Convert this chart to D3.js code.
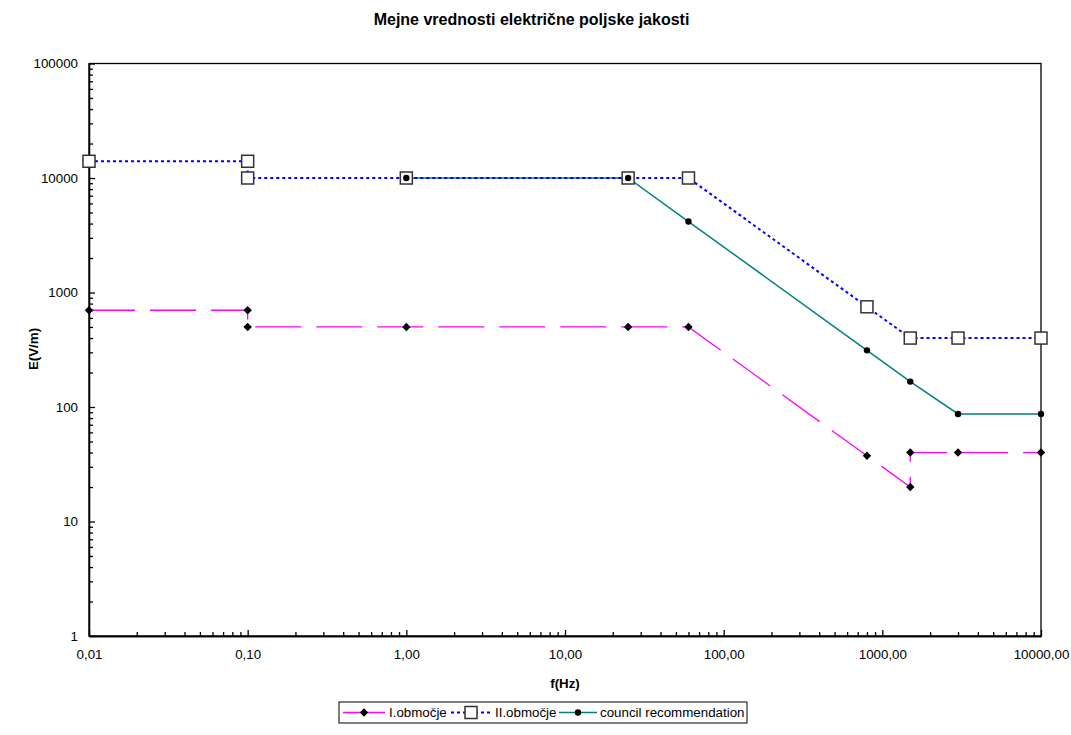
<!DOCTYPE html>
<html>
<head>
<meta charset="utf-8">
<script src="https://cdn.jsdelivr.net/npm/d3@7"></script>
<style>
  html, body { margin: 0; padding: 0; background: #fff; }
  svg { display: block; font-family: "Liberation Sans", Arial, sans-serif; }
</style>
</head>
<body>
<svg id="chart" width="1071" height="735"></svg>
<script>
// ---- data ----
const xTickValues = [0.01, 0.1, 1, 10, 100, 1000, 10000];
const xTickLabels = ["0,01", "0,10", "1,00", "10,00", "100,00", "1000,00", "10000,00"];
const yTickValues = [1, 10, 100, 1000, 10000, 100000];
const yTickLabels = ["1", "10", "100", "1000", "10000", "100000"];

const freqI = [0.01, 0.1, 0.1, 1, 25, 60, 800, 1500, 1500, 3000, 10000];
const valI  = [700, 700, 500, 500, 500, 500, 37.5, 20, 40, 40, 40];

const freqII = [0.01, 0.1, 0.1, 1, 25, 60, 800, 1500, 3000, 10000];
const valII  = [14000, 14000, 10000, 10000, 10000, 10000, 750, 400, 400, 400];

const freqC = [1, 25, 60, 800, 1500, 3000, 10000];
const valC  = [10000, 10000, 4167, 312.5, 166.7, 87, 87];

const seriesNames = ["I.območje", "II.območje", "council recommendation"];
const titleText = "Mejne vrednosti električne poljske jakosti";
const xTitle = "f(Hz)";
const yTitle = "E(V/m)";

// ---- layout ----
const svg = d3.select("#chart");
const L = 89, R = 1041, T = 63.5, B = 636;
const x = d3.scaleLog().domain([0.01, 10000]).range([L, R]);
const y = d3.scaleLog().domain([1, 100000]).range([B, T]);

const FONT = 13.33;

// title
svg.append("text").attr("x", 531.5).attr("y", 25).attr("text-anchor", "middle")
  .attr("font-size", 16).attr("font-weight", "bold").attr("fill", "#000").text(titleText);

// plot frame
svg.append("rect").attr("x", L).attr("y", T).attr("width", R - L).attr("height", B - T)
  .attr("fill", "none").attr("stroke", "#000").attr("stroke-width", 1.3);

// minor ticks
const xMinor = x.ticks().filter(v => !xTickValues.some(m => Math.abs(m - v) / m < 1e-9));
const yMinor = y.ticks().filter(v => !yTickValues.some(m => Math.abs(m - v) / m < 1e-9));

const gxMinor = svg.append("g").attr("transform", `translate(0,${B})`)
  .call(d3.axisBottom(x).tickValues(xMinor).tickSizeInner(-4).tickSizeOuter(0).tickFormat(""));
const gyMinor = svg.append("g").attr("transform", `translate(${L},0)`)
  .call(d3.axisLeft(y).tickValues(yMinor).tickSizeInner(-4).tickSizeOuter(0).tickFormat(""));

// major axes
const gx = svg.append("g").attr("transform", `translate(0,${B})`)
  .call(d3.axisBottom(x).tickValues(xTickValues).tickSizeInner(-6).tickSizeOuter(0)
    .tickPadding(14).tickFormat((d, i) => xTickLabels[i]));
const gy = svg.append("g").attr("transform", `translate(${L},0)`)
  .call(d3.axisLeft(y).tickValues(yTickValues).tickSizeInner(-6).tickSizeOuter(0)
    .tickPadding(11).tickFormat((d, i) => yTickLabels[i]));

[gx, gy, gxMinor, gyMinor].forEach(g => {
  g.select(".domain").attr("stroke", "#000").attr("stroke-width", 1.3);
  g.selectAll(".tick line").attr("stroke", "#000").attr("stroke-width", 1.3);
  g.selectAll(".tick text").attr("font-size", FONT).attr("fill", "#000")
    .attr("font-family", "'Liberation Sans', Arial, sans-serif");
});
gx.selectAll(".tick text").attr("dy", "0.71em");

// axis titles
svg.append("text").attr("x", 565).attr("y", 688).attr("text-anchor", "middle")
  .attr("font-size", FONT).attr("font-weight", "bold").text(xTitle);
svg.append("text").attr("transform", "translate(38,349) rotate(-90)").attr("text-anchor", "middle")
  .attr("font-size", FONT).attr("font-weight", "bold").text(yTitle);

// ---- series ----
const ptsI = freqI.map((f, i) => [f, valI[i]]);
const ptsII = freqII.map((f, i) => [f, valII[i]]);
const ptsC = freqC.map((f, i) => [f, valC[i]]);
const line = d3.line().x(d => x(d[0])).y(d => y(d[1]));

const styleI = { stroke: "#FF00FF", width: 1.3, dash: "46,15" };
const styleII = { stroke: "#0000FF", width: 2, dash: "3,3" };
const styleC = { stroke: "#008080", width: 1.5, dash: null };

function drawLine(pts, s) {
  const p = svg.append("path").attr("d", line(pts)).attr("fill", "none")
    .attr("stroke", s.stroke).attr("stroke-width", s.width);
  if (s.dash) p.attr("stroke-dasharray", s.dash);
}
drawLine(ptsC, styleC);
drawLine(ptsI, styleI);
drawLine(ptsII, styleII);

function drawDiamond(g, cx, cy) {
  g.append("path").attr("d", "M0,-4.2L4.2,0L0,4.2L-4.2,0Z").attr("transform", `translate(${cx},${cy})`)
    .attr("fill", "#000");
}
function drawSquare(g, cx, cy) {
  g.append("rect").attr("x", cx - 6).attr("y", cy - 6).attr("width", 12).attr("height", 12)
    .attr("fill", "#fff").attr("stroke", "#333").attr("stroke-width", 1.5);
}
function drawCircle(g, cx, cy) {
  g.append("circle").attr("cx", cx).attr("cy", cy).attr("r", 3.2).attr("fill", "#000");
}
const gm = svg.append("g");
ptsI.forEach(d => drawDiamond(gm, x(d[0]), y(d[1])));
ptsII.forEach(d => drawSquare(gm, x(d[0]), y(d[1])));
ptsC.forEach(d => drawCircle(gm, x(d[0]), y(d[1])));

// ---- legend ----
const lg = svg.append("g");
lg.append("rect").attr("x", 339).attr("y", 702).attr("width", 408).attr("height", 21)
  .attr("fill", "#fff").attr("stroke", "#000").attr("stroke-width", 1);
const ly = 712.5;
const legendItems = [
  { s: styleI, x0: 343, x1: 385, mk: drawDiamond, tx: 389 },
  { s: styleII, x0: 451, x1: 491, mk: drawSquare, tx: 495 },
  { s: styleC, x0: 559, x1: 597, mk: drawCircle, tx: 600 }
];
legendItems.forEach((it, i) => {
  const p = lg.append("line").attr("x1", it.x0).attr("x2", it.x1).attr("y1", ly).attr("y2", ly)
    .attr("stroke", it.s.stroke).attr("stroke-width", it.s.width);
  if (i === 1) p.attr("stroke-dasharray", "3,3");
  it.mk(lg, (it.x0 + it.x1) / 2, ly);
  lg.append("text").attr("x", it.tx).attr("y", ly + 4.8).attr("font-size", FONT).text(seriesNames[i]);
});
</script>
</body>
</html>
